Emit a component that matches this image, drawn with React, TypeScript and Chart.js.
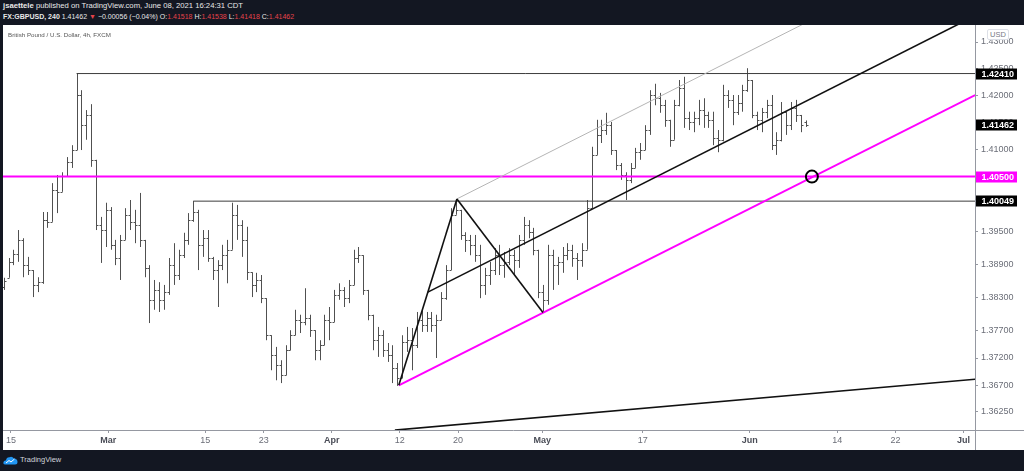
import React, { useEffect, useRef } from "react";
import { Chart, registerables } from "chart.js";

Chart.register(...registerables);

type OHLC = [number, number, number, number]; // open, high, low, close

// GBPUSD bars (two per trading day)
const febBars: OHLC[] = [
  [1.3848, 1.3865, 1.3843, 1.3859], [1.3865, 1.3901, 1.3865, 1.3894], [1.3894, 1.3916, 1.3888, 1.3908],
  [1.3908, 1.3952, 1.3894, 1.3934], [1.3934, 1.3937, 1.3866, 1.3888], [1.3888, 1.3903, 1.3870, 1.3879],
  [1.3879, 1.3879, 1.3830, 1.3852], [1.3852, 1.3866, 1.3839, 1.3857], [1.3857, 1.3985, 1.3854, 1.3970],
  [1.3970, 1.3985, 1.3956, 1.3967], [1.3967, 1.4038, 1.3967, 1.4025], [1.4025, 1.4053, 1.3983, 1.4022],
  [1.4022, 1.4058, 1.4022, 1.4051], [1.4051, 1.4086, 1.4051, 1.4077], [1.4077, 1.4108, 1.4066, 1.4099],
  [1.4099, 1.4241, 1.4099, 1.4201], [1.4201, 1.4210, 1.4099, 1.4145], [1.4145, 1.4173, 1.4118, 1.4164],
  [1.4164, 1.4184, 1.4068, 1.4081], [1.4081, 1.4081, 1.3952, 1.3961], [1.3961, 1.3976, 1.3892, 1.3952],
  [1.3952, 1.4002, 1.3921, 1.3989],
];
const marBars: OHLC[] = [
  [1.3989, 1.3994, 1.3916, 1.3925], [1.3925, 1.3934, 1.3888, 1.3901], [1.3901, 1.3943, 1.3861, 1.3934],
  [1.3934, 1.3992, 1.3934, 1.3980], [1.3980, 1.4007, 1.3952, 1.3967], [1.3967, 1.3989, 1.3928, 1.3961],
  [1.3961, 1.4020, 1.3921, 1.3934], [1.3934, 1.3934, 1.3866, 1.3883], [1.3883, 1.3888, 1.3783, 1.3825],
  [1.3825, 1.3861, 1.3807, 1.3843], [1.3843, 1.3857, 1.3803, 1.3825], [1.3825, 1.3852, 1.3807, 1.3839],
  [1.3839, 1.3901, 1.3834, 1.3888], [1.3888, 1.3928, 1.3852, 1.3870], [1.3870, 1.3916, 1.3861, 1.3906],
  [1.3906, 1.3947, 1.3901, 1.3934], [1.3934, 1.3983, 1.3925, 1.3970], [1.3970, 1.4005, 1.3967, 1.3985],
  [1.3985, 1.3989, 1.3879, 1.3925], [1.3925, 1.3952, 1.3903, 1.3937], [1.3937, 1.3952, 1.3894, 1.3901],
  [1.3901, 1.3903, 1.3861, 1.3879], [1.3879, 1.3897, 1.3812, 1.3888], [1.3888, 1.3925, 1.3879, 1.3906],
  [1.3906, 1.3934, 1.3855, 1.3916], [1.3916, 1.4002, 1.3916, 1.3980], [1.3980, 1.3998, 1.3934, 1.3961],
  [1.3961, 1.3970, 1.3903, 1.3934], [1.3934, 1.3958, 1.3861, 1.3875], [1.3875, 1.3875, 1.3830, 1.3852],
  [1.3852, 1.3874, 1.3839, 1.3861], [1.3861, 1.3870, 1.3819, 1.3828], [1.3828, 1.3828, 1.3752, 1.3761],
  [1.3761, 1.3761, 1.3698, 1.3725], [1.3725, 1.3740, 1.3680, 1.3707], [1.3707, 1.3716, 1.3675, 1.3689],
  [1.3689, 1.3743, 1.3689, 1.3734], [1.3734, 1.3770, 1.3734, 1.3761], [1.3761, 1.3807, 1.3761, 1.3788],
  [1.3788, 1.3798, 1.3765, 1.3785], [1.3785, 1.3846, 1.3779, 1.3792], [1.3792, 1.3798, 1.3758, 1.3770],
  [1.3770, 1.3770, 1.3716, 1.3734], [1.3734, 1.3752, 1.3716, 1.3743], [1.3743, 1.3798, 1.3743, 1.3788],
  [1.3788, 1.3812, 1.3752, 1.3785],
];
const aprBars: OHLC[] = [
  [1.3785, 1.3843, 1.3785, 1.3834], [1.3834, 1.3855, 1.3825, 1.3843], [1.3843, 1.3848, 1.3812, 1.3828],
  [1.3828, 1.3861, 1.3819, 1.3852], [1.3852, 1.3916, 1.3852, 1.3901], [1.3901, 1.3921, 1.3892, 1.3906],
  [1.3906, 1.3906, 1.3834, 1.3843], [1.3843, 1.3843, 1.3788, 1.3798], [1.3798, 1.3798, 1.3734, 1.3752],
  [1.3752, 1.3776, 1.3722, 1.3761], [1.3761, 1.3770, 1.3722, 1.3734], [1.3734, 1.3747, 1.3713, 1.3725],
  [1.3725, 1.3743, 1.3675, 1.3702], [1.3702, 1.3711, 1.3670, 1.3684], [1.3684, 1.3761, 1.3684, 1.3749],
  [1.3749, 1.3776, 1.3731, 1.3752], [1.3752, 1.3774, 1.3698, 1.3743], [1.3743, 1.3803, 1.3738, 1.3788],
  [1.3788, 1.3810, 1.3767, 1.3779], [1.3779, 1.3803, 1.3767, 1.3792], [1.3792, 1.3803, 1.3767, 1.3779],
  [1.3779, 1.3798, 1.3720, 1.3788], [1.3788, 1.3839, 1.3788, 1.3828], [1.3828, 1.3888, 1.3825, 1.3879],
  [1.3879, 1.3992, 1.3879, 1.3980], [1.3980, 1.4009, 1.3980, 1.3989], [1.3989, 1.3989, 1.3934, 1.3943],
  [1.3943, 1.3948, 1.3912, 1.3934], [1.3934, 1.3943, 1.3906, 1.3925], [1.3925, 1.3943, 1.3894, 1.3906],
  [1.3906, 1.3925, 1.3828, 1.3852], [1.3852, 1.3883, 1.3834, 1.3870], [1.3870, 1.3894, 1.3852, 1.3879],
  [1.3879, 1.3919, 1.3870, 1.3906], [1.3906, 1.3925, 1.3870, 1.3888], [1.3888, 1.3912, 1.3865, 1.3894],
  [1.3894, 1.3919, 1.3888, 1.3906], [1.3906, 1.3916, 1.3870, 1.3897], [1.3897, 1.3943, 1.3883, 1.3934],
  [1.3934, 1.3976, 1.3925, 1.3961], [1.3961, 1.3970, 1.3937, 1.3948], [1.3948, 1.3956, 1.3906, 1.3916],
  [1.3916, 1.3916, 1.3828, 1.3839],
];
const mayBars: OHLC[] = [
  [1.3839, 1.3852, 1.3802, 1.3825], [1.3825, 1.3925, 1.3816, 1.3906], [1.3906, 1.3916, 1.3843, 1.3888],
  [1.3888, 1.3903, 1.3852, 1.3894], [1.3894, 1.3921, 1.3874, 1.3906], [1.3906, 1.3928, 1.3897, 1.3916],
  [1.3916, 1.3925, 1.3885, 1.3901], [1.3901, 1.3910, 1.3861, 1.3897], [1.3897, 1.3928, 1.3885, 1.3916],
  [1.3916, 1.4007, 1.3916, 1.3992], [1.3992, 1.4105, 1.3992, 1.4090], [1.4090, 1.4155, 1.4090, 1.4127],
  [1.4127, 1.4155, 1.4112, 1.4136], [1.4136, 1.4168, 1.4127, 1.4145], [1.4145, 1.4151, 1.4090, 1.4099],
  [1.4099, 1.4099, 1.4062, 1.4071], [1.4071, 1.4075, 1.4044, 1.4053], [1.4053, 1.4058, 1.4007, 1.4044],
  [1.4044, 1.4075, 1.4038, 1.4066], [1.4066, 1.4103, 1.4066, 1.4095], [1.4095, 1.4112, 1.4081, 1.4099],
  [1.4099, 1.4145, 1.4099, 1.4136], [1.4136, 1.4210, 1.4127, 1.4201], [1.4201, 1.4222, 1.4182, 1.4195],
  [1.4195, 1.4205, 1.4168, 1.4182], [1.4182, 1.4192, 1.4142, 1.4155], [1.4155, 1.4155, 1.4105, 1.4118],
  [1.4118, 1.4192, 1.4118, 1.4182], [1.4182, 1.4229, 1.4180, 1.4214], [1.4214, 1.4235, 1.4140, 1.4158],
  [1.4158, 1.4170, 1.4136, 1.4151], [1.4151, 1.4170, 1.4132, 1.4158], [1.4158, 1.4192, 1.4145, 1.4173],
  [1.4173, 1.4195, 1.4140, 1.4164], [1.4164, 1.4170, 1.4140, 1.4155], [1.4155, 1.4170, 1.4108, 1.4121],
  [1.4121, 1.4136, 1.4095, 1.4118], [1.4118, 1.4220, 1.4115, 1.4201], [1.4201, 1.4210, 1.4177, 1.4192],
  [1.4192, 1.4201, 1.4145, 1.4170], [1.4170, 1.4201, 1.4164, 1.4186], [1.4186, 1.4220, 1.4170, 1.4210],
];
const junBars: OHLC[] = [
  [1.4210, 1.4251, 1.4207, 1.4229], [1.4229, 1.4229, 1.4158, 1.4164], [1.4164, 1.4170, 1.4136, 1.4155],
  [1.4155, 1.4177, 1.4132, 1.4170], [1.4170, 1.4192, 1.4158, 1.4182], [1.4182, 1.4201, 1.4099, 1.4108],
  [1.4108, 1.4132, 1.4090, 1.4118], [1.4118, 1.4188, 1.4115, 1.4170], [1.4170, 1.4170, 1.4127, 1.4145],
  [1.4145, 1.4188, 1.4136, 1.4177], [1.4177, 1.4192, 1.4151, 1.4164], [1.4164, 1.4164, 1.4132, 1.4145],
  [1.41518, 1.41538, 1.41418, 1.41462],
];

// time axis: trading-day index (Feb 15 = 0, weekends skipped)
const FIRST_BAR_DAY = -0.75;
const BAR_STEP = 0.5;
const X_MIN = -0.82;
const X_MAX = 99.18;
const xTickDays = [0, 10, 20, 26, 33, 40, 46, 54.67, 65, 76, 85, 91, 98];
const xTickLabels = ["15", "Mar", "15", "23", "Apr", "12", "20", "May", "17", "Jun", "14", "22", "Jul"];
const monthLabels = ["Mar", "Apr", "May", "Jun", "Jul"];

// price axis (log scale)
const Y_MIN = 1.35912;
const Y_MAX = 1.43319;
const yTicks = [1.43, 1.425, 1.42, 1.415, 1.41, 1.405, 1.4, 1.395, 1.389, 1.383, 1.377, 1.372, 1.367, 1.3625];

// drawings
const feb24High = { x: 6.75, y: 1.4241 };
const mar18High = { x: 18.75, y: 1.40049 };
const keyLevel = 1.405;
const pivotA = { x: 39.9, y: 1.3671 };
const pivotB = { x: 45.88, y: 1.4009 };
const pivotC = { x: 54.73, y: 1.3802 };
const magentaTrend = [{ x: 39.9, y: 1.3671 }, { x: 99.2, y: 1.4201 }];
const lowerTrend = [{ x: 39.5, y: 1.3591 }, { x: 99.2, y: 1.3682 }];
const targetPoint = { x: 82.4, y: 1.405 };

const priceTags = [
  { value: 1.4241, text: "1.42410", bg: "#000000" },
  { value: 1.41462, text: "1.41462", bg: "#000000" },
  { value: 1.405, text: "1.40500", bg: "#ff00ff" },
  { value: 1.40049, text: "1.40049", bg: "#000000" },
];

const FONT = "'Liberation Sans', Arial, sans-serif";

export default function App() {
  const ref = useRef<HTMLCanvasElement | null>(null);

  useEffect(() => {
    const canvas = ref.current;
    if (!canvas) return;
    const bars: OHLC[] = [...febBars, ...marBars, ...aprBars, ...mayBars, ...junBars];

    // Schiff pitchfork geometry (in log-price space, like the log chart)
    const lA = Math.log(pivotA.y), lB = Math.log(pivotB.y), lC = Math.log(pivotC.y);
    const m1 = { x: (pivotA.x + pivotB.x) / 2, l: (lA + lB) / 2 };
    const m2 = { x: (pivotB.x + pivotC.x) / 2, l: (lB + lC) / 2 };
    const slope = (m2.l - m1.l) / (m2.x - m1.x);
    const farX = X_MAX + 30;
    const median = [
      { x: m1.x, y: Math.exp(m1.l) },
      { x: farX, y: Math.exp(m1.l + slope * (farX - m1.x)) },
    ];
    const upperTine = [
      { x: pivotB.x, y: pivotB.y },
      { x: farX, y: Math.exp(lB + slope * (farX - pivotB.x)) },
    ];

    const line = (data: any[], color: string, width: number) => ({
      type: "line" as const,
      data,
      borderColor: color,
      borderWidth: width,
      pointRadius: 0,
      fill: false,
      tension: 0,
    });

    const ohlcPlugin = {
      id: "ohlc",
      beforeDatasetsDraw(chart: any) {
        const { ctx, chartArea, scales } = chart;
        const xs = scales.x, ys = scales.y;
        ctx.save();
        ctx.beginPath();
        ctx.rect(chartArea.left, chartArea.top, chartArea.right - chartArea.left, chartArea.bottom - chartArea.top);
        ctx.clip();
        ctx.strokeStyle = "#505050";
        ctx.lineWidth = 1;
        ctx.beginPath();
        bars.forEach((b, i) => {
          const d = FIRST_BAR_DAY + i * BAR_STEP;
          const x = Math.round(xs.getPixelForValue(d)) + 0.5;
          const [o, h, l, c] = b;
          const yh = ys.getPixelForValue(h);
          let yl = ys.getPixelForValue(l);
          if (yl - yh < 1) yl = yh + 1;
          const yo = Math.round(ys.getPixelForValue(o)) + 0.5;
          const yc = Math.round(ys.getPixelForValue(c)) + 0.5;
          ctx.moveTo(x, yh);
          ctx.lineTo(x, yl);
          ctx.moveTo(x - 2, yo);
          ctx.lineTo(x, yo);
          ctx.moveTo(x, yc);
          ctx.lineTo(x + 2, yc);
        });
        ctx.stroke();
        ctx.restore();
      },
    };

    const framePlugin = {
      id: "frame",
      afterDraw(chart: any) {
        const { ctx, chartArea, scales, width, height } = chart;
        const ys = scales.y;
        ctx.save();
        ctx.strokeStyle = "#9598a1";
        ctx.lineWidth = 1;
        ctx.beginPath();
        const rx = Math.round(chartArea.right) + 0.5;
        const by = Math.round(chartArea.bottom) + 0.5;
        ctx.moveTo(rx, 0);
        ctx.lineTo(rx, height);
        ctx.moveTo(0, by);
        ctx.lineTo(width, by);
        ctx.stroke();
        ctx.font = `bold 9px ${FONT}`;
        ctx.textBaseline = "middle";
        ctx.textAlign = "left";
        priceTags.forEach((t) => {
          const y = Math.round(ys.getPixelForValue(t.value));
          ctx.fillStyle = t.bg;
          ctx.fillRect(rx + 0.5, y - 5.5, 41, 11);
          ctx.fillStyle = "#ffffff";
          ctx.fillText(t.text, rx + 6, y + 0.5);
        });
        ctx.restore();
      },
    };

    const chart = new Chart(canvas, {
      type: "line",
      data: {
        datasets: [
          {
            type: "line",
            data: [targetPoint],
            showLine: false,
            pointRadius: 6,
            pointBorderWidth: 2,
            pointBorderColor: "#000000",
            pointBackgroundColor: "rgba(0,0,0,0)",
          } as any,
          line([pivotA, pivotB], "#111111", 1.6),
          line([pivotB, pivotC], "#111111", 1.6),
          line(median, "#111111", 1.6),
          line(upperTine, "#b5b5b5", 1),
          line(magentaTrend, "#ff00ff", 2),
          line([{ x: X_MIN, y: keyLevel }, { x: X_MAX, y: keyLevel }], "#ff00ff", 2),
          line(lowerTrend, "#111111", 1.6),
          line([feb24High, { x: X_MAX, y: feb24High.y }], "#3c3c3c", 1),
          line([mar18High, { x: X_MAX, y: mar18High.y }], "#3c3c3c", 1),
        ],
      },
      options: {
        animation: false,
        responsive: false,
        devicePixelRatio: 1,
        events: [],
        layout: { padding: 0, autoPadding: false },
        plugins: {
          legend: { display: false },
          tooltip: { enabled: false },
          title: { display: false },
        },
        scales: {
          x: {
            type: "linear",
            min: X_MIN,
            max: X_MAX,
            bounds: "data",
            afterBuildTicks: (s: any) => {
              s.ticks = xTickDays.map((v) => ({ value: v }));
            },
            afterFit: (s: any) => {
              s.height = 20;
              s.paddingLeft = 0;
              s.paddingRight = 0;
            },
            ticks: {
              autoSkip: false,
              maxRotation: 0,
              padding: 2,
              color: (c: any) => (monthLabels.includes(xTickLabels[c.index]) ? "#4a4d57" : "#6b6e78"),
              font: (c: any) => ({
                family: FONT,
                size: 9,
                weight: monthLabels.includes(xTickLabels[c.index]) ? "bold" : "normal",
              }),
              callback: (_v: any, i: number) => xTickLabels[i],
            },
            grid: { display: true, drawOnChartArea: false, drawTicks: true, tickLength: 3, color: "#9598a1" },
            border: { display: false },
          },
          y: {
            type: "logarithmic",
            position: "right",
            min: Y_MIN,
            max: Y_MAX,
            bounds: "data",
            afterBuildTicks: (s: any) => {
              s.ticks = yTicks.map((v) => ({ value: v }));
            },
            afterFit: (s: any) => {
              s.width = 49;
              s.paddingTop = 0;
              s.paddingBottom = 0;
            },
            ticks: {
              autoSkip: false,
              padding: 3,
              color: "#6b6e78",
              font: { family: FONT, size: 9 },
              callback: (v: any) => Number(v).toFixed(5),
            },
            grid: { display: true, drawOnChartArea: false, drawTicks: true, tickLength: 3, color: "#9598a1" },
            border: { display: false },
          },
        } as any,
      },
      plugins: [ohlcPlugin, framePlugin],
    } as any);

    return () => chart.destroy();
  }, []);

  const red = "#e5434b";
  return (
    <div
      style={{
        position: "fixed",
        left: 0,
        top: 0,
        width: 1024,
        height: 471,
        background: "#131722",
        overflow: "hidden",
        fontFamily: FONT,
      }}
    >
      <div style={{ position: "absolute", left: 3, top: 1, fontSize: 7.7, lineHeight: "10px", color: "#e8e8e8", whiteSpace: "nowrap" }}>
        <b>jsaettele</b> published on TradingView.com, June 08, 2021 16:24:31 CDT
      </div>
      <div style={{ position: "absolute", left: 3, top: 12, fontSize: 7, lineHeight: "10px", color: "#e8e8e8", whiteSpace: "nowrap" }}>
        <b>FX:GBPUSD, 240</b> 1.41462 <span style={{ color: red }}>▼</span> −0.00056 (−0.04%) O:
        <span style={{ color: red }}>1.41518</span> H:<span style={{ color: red }}>1.41538</span> L:
        <span style={{ color: red }}>1.41418</span> C:<span style={{ color: red }}>1.41462</span>
      </div>
      <canvas
        ref={ref}
        width={1021}
        height={425}
        style={{ position: "absolute", left: 3, top: 25, width: 1021, height: 425, background: "#ffffff" }}
      />
      <div style={{ position: "absolute", left: 8, top: 29.5, fontSize: 6.2, lineHeight: "9px", color: "#555555", whiteSpace: "nowrap" }}>
        British Pound / U.S. Dollar, 4h, FXCM
      </div>
      <div
        style={{
          position: "absolute",
          left: 987,
          top: 29,
          width: 20,
          height: 9,
          border: "1px solid #dcdfe6",
          borderRadius: 2,
          background: "#ffffff",
          color: "#787b86",
          fontSize: 7.5,
          lineHeight: "9px",
          textAlign: "center",
        }}
      >
        USD
      </div>
      <div style={{ position: "absolute", left: 3, top: 455, display: "flex", alignItems: "center", gap: 2 }}>
        <svg width="15" height="10" viewBox="0 0 15 10">
          <path d="M2 9.5 Q0 9.5 0.5 7 Q1 5 3 5.5 Q3.5 2 6.5 2.2 Q9 1 11 3.5 Q14.5 3.5 14.5 7 Q14.5 9.5 12 9.5 Z" fill="#2196f3" />
          <path d="M3 8 L6 5.5 L8 7 L11.5 4" stroke="#ffffff" strokeWidth="1" fill="none" />
        </svg>
        <span style={{ color: "#d1d4dc", fontSize: 7.5, lineHeight: "10px" }}>TradingView</span>
      </div>
    </div>
  );
}
